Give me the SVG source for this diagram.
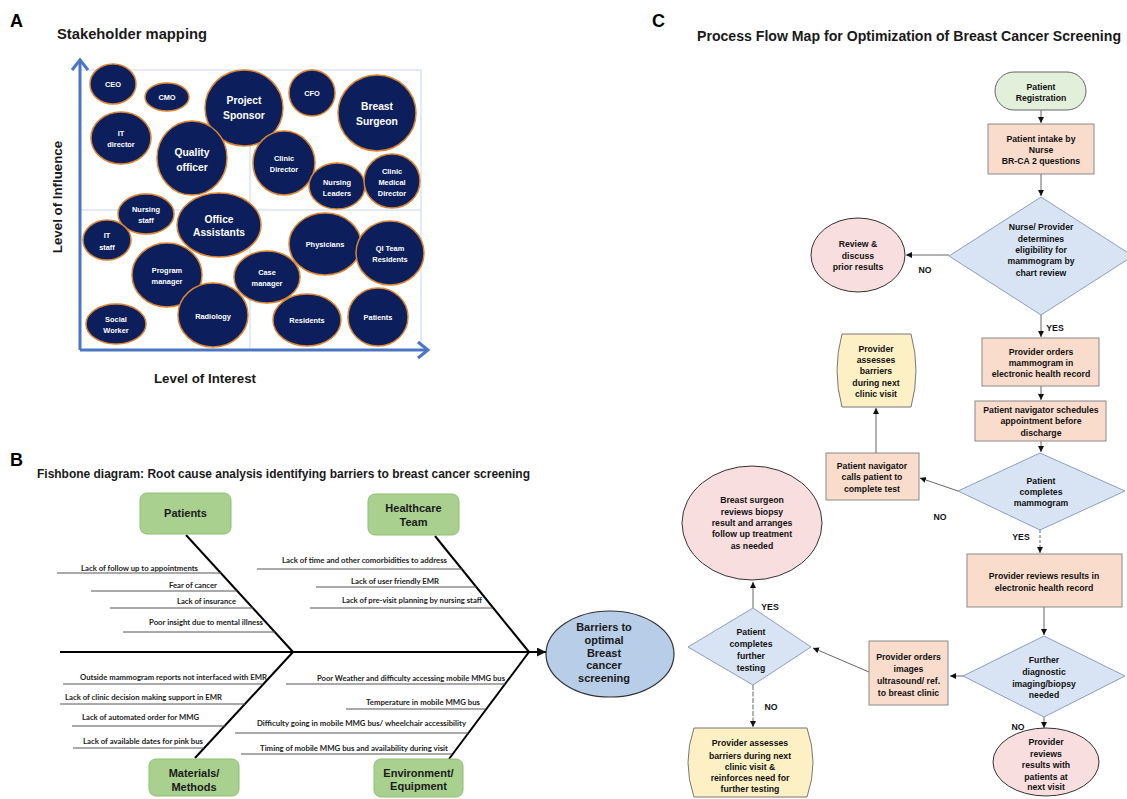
<svg xmlns="http://www.w3.org/2000/svg" width="1127" height="799" viewBox="0 0 1127 799">
<style>
text{font-family:"Liberation Sans",Arial,sans-serif;font-weight:bold;}
.lbl{font-size:18px;fill:#000;}
.ttl{font-size:15px;fill:#1a1a1a;}
.ax{font-size:13.3px;fill:#1a1a1a;}
.st{fill:#0c1f5c;stroke:#d98430;stroke-width:1.5;}
.s{font-size:7.4px;fill:#fff;text-anchor:middle;}
.b{font-size:10.3px;fill:#fff;text-anchor:middle;}
.axis{stroke:#4a76c4;stroke-width:3;fill:none;}
.grid{stroke:#c9d7f0;stroke-width:1;fill:none;}
.cat{fill:#a9d08e;stroke:#8fbf73;stroke-width:1;}
.ct{font-size:11px;fill:#1a1a1a;text-anchor:middle;}
.cause{font-family:Lato,"Liberation Sans",sans-serif;font-size:8.2px;fill:#222;text-anchor:end;}
.cl{stroke:#555;stroke-width:1;fill:none;}
.bone{stroke:#000;stroke-width:2;fill:none;}
.f{font-size:8.7px;fill:#111;text-anchor:middle;}
.yn{font-size:8.7px;fill:#111;text-anchor:middle;}
.peach{fill:#f9dccb;stroke:#8a8a8a;stroke-width:1;}
.dia{fill:#d8e4f3;stroke:#8e9fba;stroke-width:1;}
.pink{fill:#f8dede;stroke:#333;stroke-width:1;}
.yel{fill:#fdf0c4;stroke:#777;stroke-width:1;}
.fl{stroke:#666;stroke-width:1;fill:none;marker-end:url(#ah);}
</style>
<defs>
<marker id="ah" markerUnits="userSpaceOnUse" markerWidth="8" markerHeight="8" refX="6" refY="3" orient="auto">
<path d="M0,0 L6,3 L0,6 Z" fill="#111"/>
</marker>
<marker id="ah2" markerUnits="userSpaceOnUse" markerWidth="12" markerHeight="12" refX="9" refY="4.5" orient="auto">
<path d="M0,0 L9,4.5 L0,9 Z" fill="#111"/>
</marker>
</defs>
<rect width="1127" height="799" fill="#fff"/>

<!-- Panel A -->
<g id="panelA">
<text class="lbl" x="10" y="27">A</text>
<text class="ttl" x="57" y="39" textLength="150" lengthAdjust="spacingAndGlyphs" font-size="15">Stakeholder mapping</text>
<rect class="grid" x="80" y="70" width="341" height="280"/>
<line class="grid" x1="250" y1="70" x2="250" y2="350"/>
<line class="grid" x1="80" y1="210" x2="421" y2="210"/>
<line class="axis" x1="80" y1="350" x2="80" y2="60"/>
<polyline class="axis" points="72,70 80,60 88,70"/>
<line class="axis" x1="80" y1="350" x2="428" y2="350"/>
<polyline class="axis" points="418,342 428,350 418,358"/>
<text class="ax" x="205" y="383" text-anchor="middle">Level of Interest</text>
<text class="ax" transform="translate(62,197) rotate(-90)" text-anchor="middle">Level of Influence</text>
</g>

<g id="sh-ceo"><ellipse class="st" cx="113" cy="84" rx="23" ry="20"/><text class="s" x="113" y="87">CEO</text></g>
<g id="sh-cmo"><ellipse class="st" cx="167" cy="97" rx="22" ry="14"/><text class="s" x="167" y="100">CMO</text></g>
<g id="sh-cfo"><ellipse class="st" cx="312" cy="93" rx="23" ry="23"/><text class="s" x="312" y="96">CFO</text></g>
<g id="sh-sponsor"><ellipse class="st" cx="244" cy="108" rx="39" ry="38"/><text class="b" x="244" y="104">Project</text><text class="b" x="244" y="119">Sponsor</text></g>
<g id="sh-surgeon"><ellipse class="st" cx="377" cy="113" rx="39" ry="38"/><text class="b" x="377" y="110">Breast</text><text class="b" x="377" y="125">Surgeon</text></g>
<g id="sh-itdir"><ellipse class="st" cx="121" cy="138" rx="30" ry="26"/><text class="s" x="121" y="136">IT</text><text class="s" x="121" y="147">director</text></g>
<g id="sh-quality"><ellipse class="st" cx="192" cy="158" rx="35" ry="37"/><text class="b" x="192" y="156">Quality</text><text class="b" x="192" y="171">officer</text></g>
<g id="sh-clinicdir"><ellipse class="st" cx="284" cy="163" rx="31" ry="32"/><text class="s" x="284" y="161">Clinic</text><text class="s" x="284" y="172">Director</text></g>
<g id="sh-nursinglead"><ellipse class="st" cx="337" cy="186" rx="28" ry="23"/><text class="s" x="337" y="185">Nursing</text><text class="s" x="337" y="196">Leaders</text></g>
<g id="sh-cmd"><ellipse class="st" cx="392" cy="181" rx="28" ry="27"/><text class="s" x="392" y="174">Clinic</text><text class="s" x="392" y="185">Medical</text><text class="s" x="392" y="196">Director</text></g>
<g id="sh-nursingstaff"><ellipse class="st" cx="146" cy="214" rx="28" ry="20"/><text class="s" x="146" y="212">Nursing</text><text class="s" x="146" y="223">staff</text></g>
<g id="sh-office"><ellipse class="st" cx="219" cy="225" rx="42" ry="32"/><text class="b" x="219" y="223">Office</text><text class="b" x="219" y="236">Assistants</text></g>
<g id="sh-itstaff"><ellipse class="st" cx="107" cy="240" rx="24" ry="20"/><text class="s" x="107" y="238">IT</text><text class="s" x="107" y="250">staff</text></g>
<g id="sh-physicians"><ellipse class="st" cx="325" cy="244" rx="36" ry="31"/><text class="s" x="325" y="247">Physicians</text></g>
<g id="sh-qi"><ellipse class="st" cx="390" cy="253" rx="34" ry="32"/><text class="s" x="390" y="251">QI Team</text><text class="s" x="390" y="262">Residents</text></g>
<g id="sh-program"><ellipse class="st" cx="167" cy="275" rx="35" ry="32"/><text class="s" x="167" y="273">Program</text><text class="s" x="167" y="284">manager</text></g>
<g id="sh-case"><ellipse class="st" cx="267" cy="277" rx="33" ry="26"/><text class="s" x="267" y="275">Case</text><text class="s" x="267" y="286">manager</text></g>
<g id="sh-radiology"><ellipse class="st" cx="213" cy="315" rx="35" ry="32"/><text class="s" x="213" y="319">Radiology</text></g>
<g id="sh-social"><ellipse class="st" cx="116" cy="324" rx="30" ry="20"/><text class="s" x="116" y="322">Social</text><text class="s" x="116" y="333">Worker</text></g>
<g id="sh-residents"><ellipse class="st" cx="307" cy="320" rx="34" ry="26"/><text class="s" x="307" y="323">Residents</text></g>
<g id="sh-patients"><ellipse class="st" cx="378" cy="317" rx="30" ry="29"/><text class="s" x="378" y="320">Patients</text></g>

<!-- Panel B -->
<g id="panelB-title">
<text class="lbl" x="10" y="466">B</text>
<text x="37" y="478" font-size="12.5" fill="#1a1a1a" textLength="493" lengthAdjust="spacingAndGlyphs">Fishbone diagram: Root cause analysis identifying barriers to breast cancer screening</text>
</g>
<g id="fishbone-connectors">
<line class="bone" x1="60" y1="652" x2="546" y2="652" marker-end="url(#ah2)"/>
<line class="bone" x1="186" y1="535" x2="293" y2="652"/>
<line class="bone" x1="195" y1="758" x2="293" y2="652"/>
<line class="bone" x1="435" y1="536" x2="529" y2="652"/>
<line class="bone" x1="449" y1="759" x2="529" y2="652"/>
<line class="cl" x1="57" y1="573" x2="221" y2="573"/>
<line class="cl" x1="91" y1="591" x2="237" y2="591"/>
<line class="cl" x1="110" y1="608" x2="253" y2="608"/>
<line class="cl" x1="123" y1="632" x2="275" y2="632"/>
<line class="cl" x1="63" y1="684" x2="263" y2="684"/>
<line class="cl" x1="60" y1="704" x2="245" y2="704"/>
<line class="cl" x1="72" y1="726" x2="225" y2="726"/>
<line class="cl" x1="73" y1="748" x2="204" y2="748"/>
<line class="cl" x1="257" y1="569" x2="462" y2="569"/>
<line class="cl" x1="316" y1="587" x2="476" y2="587"/>
<line class="cl" x1="310" y1="608" x2="493" y2="608"/>
<line class="cl" x1="286" y1="684" x2="505" y2="684"/>
<line class="cl" x1="346" y1="709" x2="486" y2="709"/>
<line class="cl" x1="235" y1="733" x2="468" y2="733"/>
<line class="cl" x1="241" y1="754" x2="452" y2="754"/>
</g>
<g id="fb-causes">
<text class="cause" x="198" y="571" textLength="117" lengthAdjust="spacingAndGlyphs">Lack of follow up to appointments</text>
<text class="cause" x="217" y="588" textLength="48" lengthAdjust="spacingAndGlyphs">Fear of cancer</text>
<text class="cause" x="236" y="604" textLength="59" lengthAdjust="spacingAndGlyphs">Lack of insurance</text>
<text class="cause" x="263" y="625" textLength="114" lengthAdjust="spacingAndGlyphs">Poor insight due to mental illness</text>
<text class="cause" x="267" y="680" textLength="187" lengthAdjust="spacingAndGlyphs">Outside mammogram reports not interfaced with EMR</text>
<text class="cause" x="222" y="700" textLength="157" lengthAdjust="spacingAndGlyphs">Lack of clinic decision making support in EMR</text>
<text class="cause" x="199" y="720" textLength="117" lengthAdjust="spacingAndGlyphs">Lack of automated order for MMG</text>
<text class="cause" x="203" y="744" textLength="120" lengthAdjust="spacingAndGlyphs">Lack of available dates for pink bus</text>
<text class="cause" x="447" y="563" textLength="165" lengthAdjust="spacingAndGlyphs">Lack of time and other comorbidities to address</text>
<text class="cause" x="439" y="584" textLength="88" lengthAdjust="spacingAndGlyphs">Lack of user friendly EMR</text>
<text class="cause" x="482" y="603" textLength="140" lengthAdjust="spacingAndGlyphs">Lack of pre-visit planning by nursing staff</text>
<text class="cause" x="505" y="681" textLength="188" lengthAdjust="spacingAndGlyphs">Poor Weather and difficulty accessing mobile MMG bus</text>
<text class="cause" x="480" y="705" textLength="114" lengthAdjust="spacingAndGlyphs">Temperature in mobile MMG bus</text>
<text class="cause" x="466" y="726" textLength="209" lengthAdjust="spacingAndGlyphs">Difficulty going in mobile MMG bus/ wheelchair accessibility</text>
<text class="cause" x="448" y="751" textLength="188" lengthAdjust="spacingAndGlyphs">Timing of mobile MMG bus and availability during visit</text>
</g>
<g id="fb-patients"><rect class="cat" x="140" y="493" width="91" height="41" rx="7"/><text class="ct" x="185.5" y="517">Patients</text></g>
<g id="fb-healthcare"><rect class="cat" x="368" y="494" width="91" height="41" rx="7"/><text class="ct" x="413.5" y="512">Healthcare</text><text class="ct" x="413.5" y="526">Team</text></g>
<g id="fb-materials"><rect class="cat" x="149" y="759" width="90" height="37" rx="7"/><text class="ct" x="194" y="777">Materials/</text><text class="ct" x="194" y="791">Methods</text></g>
<g id="fb-environment"><rect class="cat" x="374" y="759" width="89" height="38" rx="7"/><text class="ct" x="418.5" y="777">Environment/</text><text class="ct" x="418.5" y="790">Equipment</text></g>
<g id="fb-barriers"><ellipse cx="610" cy="654" rx="64" ry="43" fill="#b7cde8" stroke="#333" stroke-width="1.2"/>
<text class="ct" font-size="11.5" x="604" y="631">Barriers to</text>
<text class="ct" font-size="11.5" x="604" y="644">optimal</text>
<text class="ct" font-size="11.5" x="604" y="657">Breast</text>
<text class="ct" font-size="11.5" x="604" y="669">cancer</text>
<text class="ct" font-size="11.5" x="604" y="682">screening</text></g>

<!-- Panel C -->
<g id="panelC-title">
<text class="lbl" x="652" y="27">C</text>
<text x="697" y="41" font-size="14" fill="#1a1a1a" textLength="424" lengthAdjust="spacingAndGlyphs">Process Flow Map for Optimization of Breast Cancer Screening</text>
</g>
<g id="flow-connectors">
<line class="fl" x1="1041" y1="110" x2="1041" y2="123"/>
<line class="fl" x1="1041" y1="174" x2="1041" y2="196"/>
<line class="fl" x1="949" y1="255" x2="906" y2="255"/>
<line class="fl" x1="1041" y1="315" x2="1041" y2="337"/>
<line class="fl" x1="1041" y1="386" x2="1041" y2="400"/>
<line class="fl" x1="1041" y1="441" x2="1041" y2="452"/>
<line class="fl" x1="958" y1="491" x2="920" y2="478"/>
<line class="fl" x1="876" y1="453" x2="876" y2="408"/>
<line class="fl" x1="1040" y1="530" x2="1040" y2="553" stroke-dasharray="3,2"/>
<line class="fl" x1="1044" y1="607" x2="1044" y2="635"/>
<line class="fl" x1="963" y1="676" x2="950" y2="676"/>
<line class="fl" x1="869" y1="672" x2="813" y2="648"/>
<line class="fl" x1="753" y1="608" x2="753" y2="582"/>
<line class="fl" x1="753" y1="685" x2="753" y2="727" stroke-dasharray="5,1.5"/>
<line class="fl" x1="1044" y1="717" x2="1044" y2="728"/>
<text class="yn" x="925" y="273">NO</text>
<text class="yn" x="1055" y="331">YES</text>
<text class="yn" x="940" y="520">NO</text>
<text class="yn" x="1021" y="540">YES</text>
<text class="yn" x="770" y="610">YES</text>
<text class="yn" x="771" y="710">NO</text>
<text class="yn" x="1018" y="730">NO</text>
</g>
<g id="c-registration"><rect x="995" y="72" width="91" height="38" rx="19" fill="#e2efda" stroke="#666" stroke-width="1"/><text class="f" x="1041" y="90">Patient</text><text class="f" x="1041" y="101">Registration</text></g>
<g id="c-intake"><rect class="peach" x="988" y="124" width="106" height="50"/><text class="f" x="1041" y="142">Patient intake by</text><text class="f" x="1041" y="153">Nurse</text><text class="f" x="1041" y="164">BR-CA  2 questions</text></g>
<g id="c-eligibility"><polygon class="dia" points="1041,197 1133,256 1041,315 949,256"/><text class="f" x="1041" y="230">Nurse/ Provider</text><text class="f" x="1041" y="242">determines</text><text class="f" x="1041" y="253">eligibility for</text><text class="f" x="1041" y="264">mammogram by</text><text class="f" x="1041" y="276">chart review</text></g>
<g id="c-review"><ellipse class="pink" cx="858" cy="255" rx="47" ry="37"/><text class="f" x="858" y="247">Review &amp;</text><text class="f" x="858" y="259">discuss</text><text class="f" x="858" y="270">prior results</text></g>
<g id="c-orders"><rect class="peach" x="982" y="338" width="117" height="48"/><text class="f" x="1041" y="355">Provider orders</text><text class="f" x="1041" y="366">mammogram in</text><text class="f" x="1041" y="377">electronic health record</text></g>
<g id="c-schedules"><rect class="peach" x="975" y="401" width="131" height="40"/><text class="f" x="1041" y="413">Patient navigator schedules</text><text class="f" x="1041" y="424">appointment before</text><text class="f" x="1041" y="436">discharge</text></g>
<g id="c-completes"><polygon class="dia" points="1040,453 1125,491 1040,530 958,491"/><text class="f" x="1041" y="484">Patient</text><text class="f" x="1041" y="495">completes</text><text class="f" x="1041" y="506">mammogram</text></g>
<g id="c-calls"><rect class="peach" x="826" y="453" width="93" height="47"/><text class="f" x="872" y="469">Patient navigator</text><text class="f" x="872" y="480">calls patient  to</text><text class="f" x="872" y="492">complete test</text></g>
<g id="c-assess1"><path class="yel" d="M842,334 H911 Q921,370.5 911,407 H842 Q832,370.5 842,334 Z"/><text class="f" x="876" y="352">Provider</text><text class="f" x="876" y="363">assesses</text><text class="f" x="876" y="374">barriers</text><text class="f" x="876" y="386">during next</text><text class="f" x="876" y="397">clinic visit</text></g>
<g id="c-reviews"><rect class="peach" x="967" y="554" width="155" height="53"/><text class="f" font-size="9.6" x="1044" y="579">Provider reviews results  in</text><text class="f" font-size="9.6" x="1044" y="591">electronic health record</text></g>
<g id="c-further"><polygon class="dia" points="1044,636 1125,676 1044,717 963,676"/><text class="f" x="1044" y="663">Further</text><text class="f" x="1044" y="675">diagnostic</text><text class="f" x="1044" y="687">imaging/biopsy</text><text class="f" x="1044" y="698">needed</text></g>
<g id="c-images"><rect class="peach" x="869" y="641" width="79" height="64"/><text class="f" x="908.5" y="660">Provider orders</text><text class="f" x="908.5" y="672">images</text><text class="f" x="908.5" y="684">ultrasound/ ref.</text><text class="f" x="908.5" y="696">to breast clinic</text></g>
<g id="c-testing"><polygon class="dia" points="753,608 811,647 753,685 688,647"/><text class="f" x="751" y="635">Patient</text><text class="f" x="751" y="647">completes</text><text class="f" x="751" y="659">further</text><text class="f" x="751" y="671">testing</text></g>
<g id="c-surgeon"><ellipse class="pink" cx="752" cy="523" rx="70" ry="57"/><text class="f" x="752" y="503">Breast surgeon</text><text class="f" x="752" y="515">reviews biopsy</text><text class="f" x="752" y="526">result and  arranges</text><text class="f" x="752" y="537">follow up treatment</text><text class="f" x="752" y="549">as needed</text></g>
<g id="c-assess2"><path class="yel" d="M694,728 H807 Q819,762.5 807,797 H694 Q682,762.5 694,728 Z"/><text class="f" x="750" y="746">Provider assesses</text><text class="f" x="750" y="759">barriers  during next</text><text class="f" x="750" y="770">clinic visit &amp;</text><text class="f" x="750" y="781">reinforces need for</text><text class="f" x="750" y="792">further testing</text></g>
<g id="c-results"><ellipse class="pink" cx="1046" cy="762" rx="53" ry="34"/><text class="f" x="1046" y="745">Provider</text><text class="f" x="1046" y="757">reviews</text><text class="f" x="1046" y="768">results with</text><text class="f" x="1046" y="780">patients at</text><text class="f" x="1046" y="790">next visit</text></g>
</svg>
